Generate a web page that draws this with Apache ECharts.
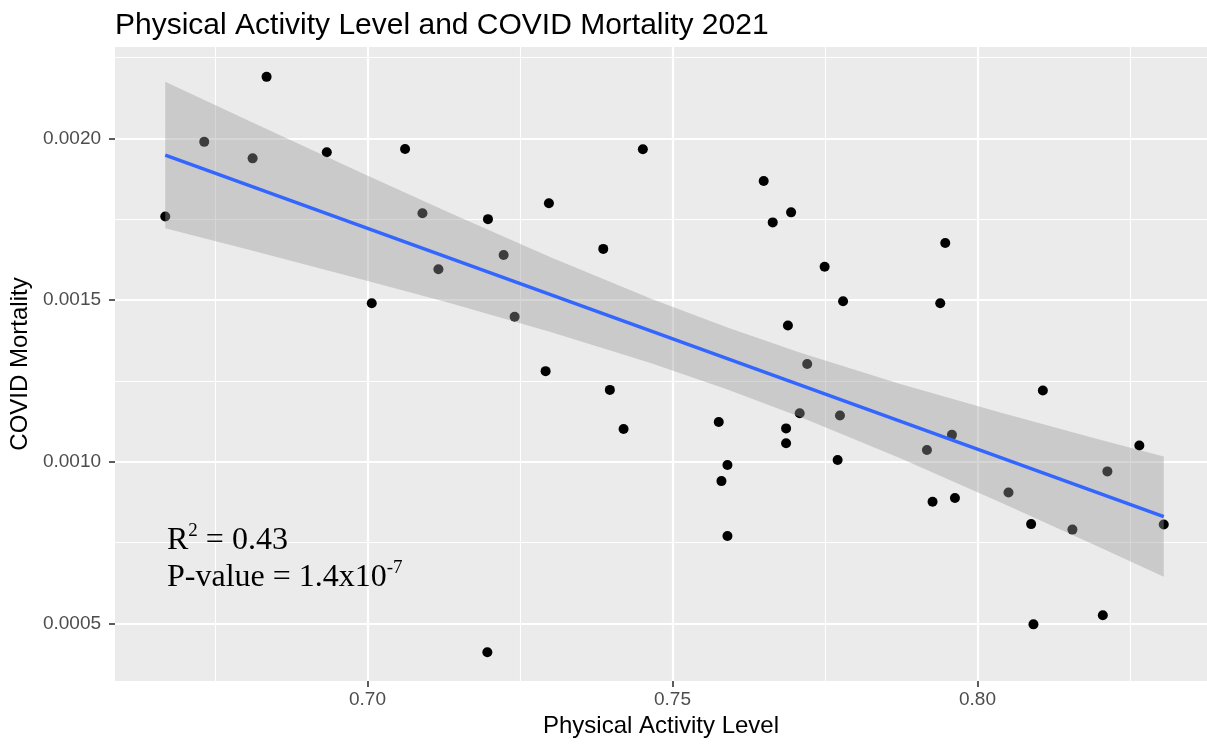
<!DOCTYPE html>
<html>
<head>
<meta charset="utf-8">
<script src="https://cdn.jsdelivr.net/npm/echarts@6/dist/echarts.min.js"></script>
<style>
  html, body { margin: 0; padding: 0; background: #ffffff; }
  #chart { width: 1207px; height: 746px; }
</style>
</head>
<body>
<div id="chart"></div>
<script>
// ---- data ----
const titleText = 'Physical Activity Level and COVID Mortality 2021';
const xName = 'Physical Activity Level';
const yName = 'COVID Mortality';

const xTicks = [0.70, 0.75, 0.80];
const xMinor = [0.675, 0.725, 0.775, 0.825];
const yTicks = [0.0005, 0.0010, 0.0015, 0.0020];
const yMinor = [0.00075, 0.00125, 0.00175, 0.00225];

const activity = [
  0.66685, 0.67324, 0.68117, 0.68346, 0.69333, 0.70070, 0.70616, 0.70901, 0.71163, 0.71975,
  0.72232, 0.72412, 0.72974, 0.72920, 0.73865, 0.73973, 0.74514, 0.76495, 0.76643, 0.76944,
  0.77494, 0.77796, 0.76892, 0.77208, 0.77085, 0.77745, 0.75758, 0.76862, 0.76862, 0.77707,
  0.79171, 0.79581, 0.79263, 0.79630, 0.81071, 0.80508, 0.80879, 0.81556, 0.82129, 0.82653,
  0.83053, 0.80917, 0.82054, 0.71965, 0.79389, 0.79471, 0.74198, 0.75802, 0.75901, 0.75901
];
const mortality = [
  0.001758, 0.001989, 0.001938, 0.002190, 0.001957, 0.001490, 0.001967, 0.001768, 0.001595, 0.001750,
  0.001639, 0.001448, 0.001799, 0.001280, 0.001658, 0.001222, 0.001966, 0.001868, 0.001740, 0.001771,
  0.001603, 0.001496, 0.001421, 0.001302, 0.001150, 0.001143, 0.001123, 0.001103, 0.001057, 0.001005,
  0.001036, 0.001083, 0.000876, 0.000888, 0.001220, 0.000905, 0.000807, 0.000790, 0.000970, 0.001050,
  0.000806, 0.000497, 0.000525, 0.000411, 0.001490, 0.001676, 0.001101, 0.000940, 0.000990, 0.000770
];

// fitted line
const fitX = [0.66685, 0.83053];
const fitY = [0.001948, 0.000830];

// confidence band
const bandX = [0.66685, 0.68089, 0.70005, 0.71364, 0.73002, 0.74640, 0.75901, 0.77097, 0.78734, 0.80372, 0.82010, 0.83053];
const bandUpper = [0.002175, 0.002051, 0.001884, 0.001768, 0.001632, 0.001505, 0.001415, 0.001337, 0.001240, 0.001152, 0.001068, 0.001016];
const bandLower = [0.001722, 0.001654, 0.001559, 0.001490, 0.001401, 0.001305, 0.001223, 0.001138, 0.001011, 0.000875, 0.000735, 0.000644];

// axis extents
const xMin = 0.658614, xMax = 0.837619;
const yMin = 0.0003219, yMax = 0.0022823;

// ---- chart ----
const chart = echarts.init(document.getElementById('chart'), null, { renderer: 'canvas' });

const sansFont = 'Liberation Sans, Arial, Helvetica, sans-serif';
const serifFont = 'Liberation Serif, Times New Roman, serif';

const gridLines = [];
const vLine = (v, w) => [{ coord: [v, yMin], lineStyle: { width: w } }, { coord: [v, yMax] }];
const hLine = (v, w) => [{ coord: [xMin, v], lineStyle: { width: w } }, { coord: [xMax, v] }];
xMinor.forEach(v => gridLines.push(vLine(v, 1.1)));
yMinor.forEach(v => gridLines.push(hLine(v, 1.1)));
xTicks.forEach(v => gridLines.push(vLine(v, 2.2)));
yTicks.forEach(v => gridLines.push(hLine(v, 2.2)));

const points = activity.map((x, i) => [x, mortality[i]]);
const bandData = bandX.map((x, i) => [x, bandUpper[i], bandLower[i]]);
const fitData = fitX.map((x, i) => [x, fitY[i]]);

const option = {
  animation: false,
  backgroundColor: '#ffffff',
  title: {
    text: titleText,
    left: 110,
    top: 6,
    textStyle: { fontFamily: sansFont, fontSize: 30, fontWeight: 'normal', color: '#000000' }
  },
  grid: {
    left: 114, top: 47, right: 0, bottom: 65,
    show: true, backgroundColor: '#EBEBEB', borderWidth: 0
  },
  xAxis: {
    type: 'value',
    min: xMin, max: xMax,
    name: xName, nameLocation: 'middle', nameGap: 30,
    nameTextStyle: { fontFamily: sansFont, fontSize: 24, color: '#000000' },
    axisLine: { show: false },
    axisTick: { show: true, customValues: xTicks, length: 6, lineStyle: { color: '#333333', width: 1.6 } },
    axisLabel: { customValues: xTicks, margin: 9, fontFamily: sansFont, fontSize: 19, color: '#4D4D4D',
      formatter: v => v.toFixed(2) },
    splitLine: { show: false }
  },
  yAxis: {
    type: 'value',
    min: yMin, max: yMax,
    name: yName, nameLocation: 'middle', nameGap: 80, nameRotate: 90,
    nameTextStyle: { fontFamily: sansFont, fontSize: 24, color: '#000000' },
    axisLine: { show: false },
    axisTick: { show: true, customValues: yTicks, length: 6, lineStyle: { color: '#333333', width: 1.6 } },
    axisLabel: { customValues: yTicks, margin: 14, fontFamily: sansFont, fontSize: 19, color: '#4D4D4D',
      formatter: v => v.toFixed(4) },
    splitLine: { show: false }
  },
  series: [
    {
      name: 'grid', type: 'scatter', data: [[xMin - 1, yMin - 1]], symbolSize: 0, z: 0, silent: true,
      markLine: {
        z: 0,
        silent: true, animation: false, symbol: ['none', 'none'],
        label: { show: false },
        lineStyle: { color: '#ffffff', type: 'solid', opacity: 1 },
        emphasis: { disabled: true },
        data: gridLines
      }
    },
    {
      name: 'states', type: 'scatter', data: points, z: 2, silent: true,
      symbol: 'circle', symbolSize: 10,
      itemStyle: { color: '#000000', opacity: 1 }
    },
    {
      name: 'band', type: 'custom', data: bandData, z: 3, silent: true,
      encode: { x: 0, y: [1, 2] },
      renderItem: function (params, api) {
        if (params.dataIndex !== 0) return null;
        const pts = [];
        for (let i = 0; i < bandX.length; i++) pts.push(api.coord([bandX[i], bandUpper[i]]));
        for (let i = bandX.length - 1; i >= 0; i--) pts.push(api.coord([bandX[i], bandLower[i]]));
        return {
          type: 'polygon',
          shape: { points: pts },
          style: { fill: 'rgba(153,153,153,0.4)', stroke: null }
        };
      }
    },
    {
      name: 'fit', type: 'line', data: fitData, z: 4, silent: true,
      symbol: 'none', lineStyle: { color: '#3366FF', width: 3.4 }
    }
  ],
  graphic: [
    {
      type: 'text', left: 167, top: 522, z: 10, silent: true,
      style: {
        text: '{m|R}{s|2}{m| = 0.43}\n{m|P-value = 1.4x10}{s|-7}',
        fill: '#000000',
        rich: {
          m: { fontFamily: serifFont, fontSize: 32, lineHeight: 37, fill: '#000000' },
          s: { fontFamily: serifFont, fontSize: 19, lineHeight: 25, verticalAlign: 'top', fill: '#000000' }
        }
      }
    }
  ]
};

chart.setOption(option);
</script>
</body>
</html>
